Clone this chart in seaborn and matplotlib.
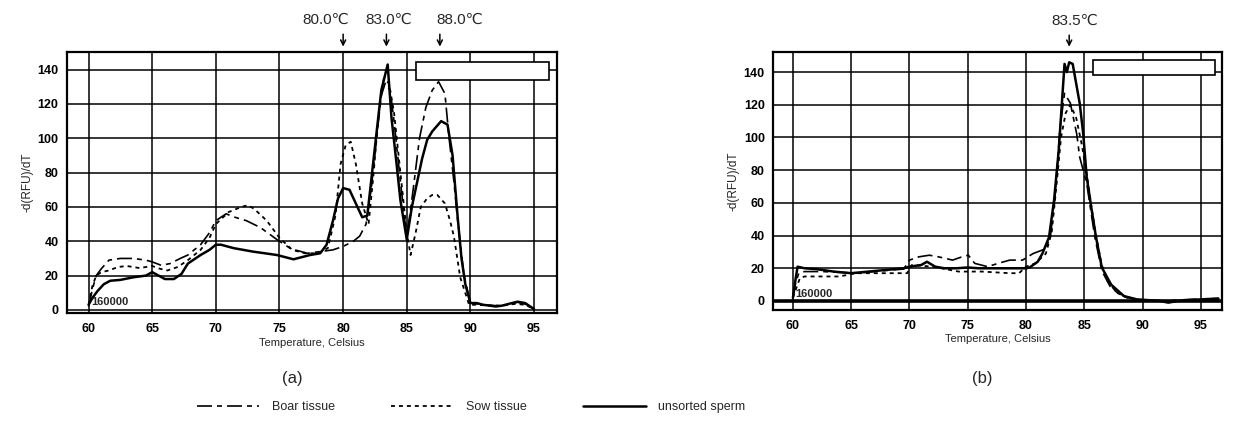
import numpy as np
import pandas as pd
import matplotlib
matplotlib.use("Agg")
import matplotlib.pyplot as plt
from matplotlib.lines import Line2D
from matplotlib.patches import Rectangle
from matplotlib.ticker import MultipleLocator
import seaborn as sns

# ---------------- data ----------------
x_ticks = [60, 65, 70, 75, 80, 85, 90, 95]
y_ticks = [0, 20, 40, 60, 80, 100, 120, 140]
series_names = ["Boar tissue", "Sow tissue", "unsorted sperm"]

# panel (a)
a_boar_x = [60.0, 60.3, 60.6, 61.0, 61.6, 62.5, 63.5, 64.5, 65.0, 65.7, 66.4, 67.2, 67.8, 68.8, 69.5, 70.0,
            70.8, 71.5, 72.4, 73.5, 74.8, 75.9, 77.2, 78.2, 79.2, 80.0, 80.8, 81.3, 81.8, 82.2, 82.7, 83.0,
            83.3, 83.7, 84.0, 84.5, 85.0, 85.5, 86.0, 86.5, 87.0, 87.5, 88.0, 88.3, 88.7, 89.0, 89.5, 90.0,
            91.0, 92.0, 93.0, 93.7, 94.5, 95.0]
a_boar_y = [2, 12, 20, 24, 29, 30, 30, 29, 28, 26, 27, 30, 32, 38, 45, 52,
            56, 54, 52, 48, 41, 35.6, 33, 34, 35, 37, 40, 43, 50, 70, 105, 125,
            132, 128, 110, 75, 42, 70, 100, 118, 128, 133, 126, 102, 75, 52, 20, 4,
            3, 2.5, 3, 4.5, 3, 0.5]

a_sow_x = [60.0, 60.3, 60.6, 61.0, 61.6, 62.3, 63.0, 64.0, 65.0, 65.6, 66.2, 67.0, 67.8, 68.8, 69.5, 70.0,
           71.0, 72.0, 72.5, 73.0, 74.0, 75.0, 76.0, 77.0, 78.0, 78.8, 79.4, 79.8, 80.2, 80.6, 81.0, 81.5,
           82.0, 82.4, 82.8, 83.2, 83.6, 84.0, 84.5, 85.0, 85.3, 85.7, 86.1, 86.6, 87.0, 87.4, 88.0, 88.4,
           88.7, 89.2, 89.9, 90.5, 91.5, 92.5, 93.5, 94.3, 95.0]
a_sow_y = [3, 14, 20, 22, 23, 25, 25.6, 24.4, 25.6, 24, 23, 25, 29, 35, 42, 50,
           57, 60, 61, 59, 52, 42, 35, 33, 33, 36, 55, 85, 96, 98, 85, 62,
           50, 80, 115, 135, 132, 115, 80, 45, 32, 45, 60, 65, 67, 67, 62, 52,
           43, 19, 3, 3, 2.5, 2.5, 3.5, 3, 0.5]

a_sperm_x = [60.0, 60.3, 60.7, 61.2, 61.7, 62.5, 63.5, 64.5, 65.0, 65.5, 66.0, 66.7, 67.3, 67.8, 68.8, 69.5,
             70.0, 70.4, 71.4, 72.9, 74.8, 76.1, 77.4, 78.2, 78.7, 79.2, 79.6, 80.0, 80.5, 81.0, 81.5, 81.9,
             82.5, 83.0, 83.5, 83.8, 84.2, 84.5, 85.0, 85.4, 85.8, 86.2, 86.6, 87.0, 87.7, 88.2, 88.6, 89.0,
             89.3, 89.6, 90.0, 90.5, 91.0, 91.5, 92.0, 92.5, 93.0, 93.7, 94.3, 95.0]
a_sperm_y = [3, 7, 11, 15, 17, 17.5, 19, 20, 22, 20, 18, 18, 21, 27, 32, 35,
             38, 38, 36, 34, 32, 29.5, 32, 33, 38, 52, 65, 71, 70, 62, 54, 55,
             95, 128, 143, 112, 85, 64, 41, 60, 74, 88, 99, 104, 110, 108, 90, 54,
             30, 15, 4, 4, 3, 2.5, 2, 2.5, 3.5, 4.8, 4, 0.5]

# panel (b)
b_boar_x = [60.0, 60.2, 60.5, 61.0, 62.5, 64.0, 65.5, 67.0, 68.5, 69.5, 70.0, 70.8, 71.7, 72.5, 73.7, 74.5,
            75.05, 75.6, 76.7, 77.6, 78.6, 79.7, 80.6, 81.7, 82.1, 82.5, 82.9, 83.3, 83.8, 84.35, 84.6, 85.2,
            85.9, 86.5, 87.2, 88.0, 89.0, 90.0, 92.0, 94.0, 96.5]
b_boar_y = [2, 10, 17, 18, 18, 17.5, 17, 18, 19, 19.5, 25, 27, 28, 27, 25, 27,
            28, 23, 21, 23, 25, 25, 29, 32, 40, 65, 105, 127, 121, 102, 88, 72,
            39, 18.5, 9, 4, 1.5, 0.5, 0, 1, 1.5]

b_sow_x = [60.0, 60.3, 60.6, 61.0, 62.0, 64.0, 65.4, 67.1, 69.2, 69.8, 70.2, 72.0, 74.2, 76.2, 78.6, 79.4,
           80.0, 80.8, 81.7, 82.2, 82.6, 83.0, 83.4, 83.8, 84.3, 84.8, 85.2, 85.6, 86.0, 86.5, 87.0, 87.8,
           88.8, 90.0, 92.0, 94.0, 96.5]
b_sow_y = [2, 8, 14, 15, 15, 15, 17, 17, 17, 17, 22, 21, 18, 18, 17, 17,
           21, 23, 29, 42, 70, 100, 115, 120, 112, 95, 78, 58, 40, 22, 12, 5,
           1.5, 0.5, 0, 0.5, 1]

b_sperm_x = [60.0, 60.2, 60.4, 61.0, 62.0, 63.5, 65.0, 66.5, 68.0, 69.5, 70.0, 71.0, 71.5, 72.2, 73.0, 74.0,
             75.0, 76.0, 77.0, 78.0, 79.0, 80.0, 80.3, 81.0, 81.4, 81.97, 82.4, 82.8, 83.3, 83.5, 83.7, 84.0,
             84.6, 84.9, 85.2, 85.6, 86.0, 86.5, 87.3, 88.4, 89.5, 90.5, 91.5, 92.2, 93.0, 94.0, 95.0, 96.5]
b_sperm_y = [2, 12, 21, 20, 19.5, 18, 17, 18, 19, 20, 21, 22, 24, 21, 20, 20,
             20.5, 20, 20, 20, 20, 20, 20.5, 24, 29, 39, 61.5, 92, 145, 140, 146, 145,
             121, 102.6, 76, 57, 39, 20.5, 10, 3, 1, 0.5, 0, -1, 0, 0.5, 1, 1.5]

peaks_a = [80.0, 83.0, 88.0]
peak_pos_a = [80.0, 83.4, 87.6]
peak_text_a = [78.6, 83.6, 89.2]
peaks_b = [83.5]
peak_pos_b = [83.7]
peak_text_b = [84.2]

# ---------------- style ----------------
sns.set_style("white")
plt.rcParams["font.family"] = ["Liberation Sans", "DejaVu Sans"]

styles = {
    "Boar tissue": dict(linestyle=(0, (9, 3, 3, 3)), linewidth=1.2),
    "Sow tissue": dict(linestyle=(0, (2.2, 2.2)), linewidth=1.3),
    "unsorted sperm": dict(linestyle="-", linewidth=1.8),
}

fig = plt.figure(figsize=(12.33, 4.21), dpi=100)
ax_a = fig.add_axes([0.0543, 0.2565, 0.3974, 0.62])
ax_b = fig.add_axes([0.627, 0.2637, 0.364, 0.6128])

panels = [
    (ax_a, [(a_boar_x, a_boar_y), (a_sow_x, a_sow_y), (a_sperm_x, a_sperm_y)], (-1.8, 150.3),
     peaks_a, peak_pos_a, peak_text_a, "(a)", 0.237, [0.712, 0.893, 0.272, 0.069]),
    (ax_b, [(b_boar_x, b_boar_y), (b_sow_x, b_sow_y), (b_sperm_x, b_sperm_y)], (-5.5, 152.3),
     peaks_b, peak_pos_b, peak_text_b, "(b)", 0.797, [0.713, 0.911, 0.271, 0.058]),
]

for ax, data, ylim, plabels, ppos, ptext, tag, tagx, box in panels:
    for name, (xs, ys) in zip(series_names, data):
        df = pd.DataFrame({"T": xs, "v": ys})
        sns.lineplot(data=df, x="T", y="v", ax=ax, color="black", sort=False,
                     estimator=None, legend=False, **styles[name])
    ax.set_xlim(58.3, 96.8)
    ax.set_ylim(*ylim)
    ax.set_xticks(x_ticks)
    ax.set_yticks(y_ticks)
    ax.xaxis.set_minor_locator(MultipleLocator(1))
    ax.yaxis.set_minor_locator(MultipleLocator(4))
    ax.tick_params(axis="both", which="major", direction="out", length=4, width=1.2,
                   labelsize=9, colors="black", pad=2)
    ax.tick_params(axis="both", which="minor", direction="in", length=5, width=1.1)
    ax.tick_params(axis="x", which="major", labelsize=9, pad=3)
    for lab in ax.get_xticklabels() + ax.get_yticklabels():
        lab.set_fontweight("bold")
    ax.grid(True, which="major", color="black", linewidth=1.1)
    for sp in ax.spines.values():
        sp.set_visible(True)
        sp.set_color("black")
        sp.set_linewidth(1.6)
    ax.set_xlabel("Temperature, Celsius", fontsize=8, labelpad=2)
    ax.set_ylabel("-d(RFU)/dT", fontsize=8.5, labelpad=3)
    fig.text(tagx, 1 - 378 / 421, tag, ha="center", va="center", fontsize=12)
    ax.add_patch(Rectangle((box[0], box[1]), box[2], box[3], transform=ax.transAxes,
                           facecolor="white", edgecolor="black", linewidth=1.2, zorder=5))
    ax.text(60.2, 1.5, "160000", fontsize=8, fontweight="bold", ha="left", va="bottom", zorder=6)
    ytop = ylim[1]
    for lbl, px, tx in zip(plabels, ppos, ptext):
        ax.annotate("", xy=(px, ytop + 1.5), xytext=(px, ytop + 12),
                    arrowprops=dict(arrowstyle="->", lw=1.1, color="black", mutation_scale=9),
                    annotation_clip=False)
        ax.text(tx, ytop + 19, f"{lbl:.1f}℃", ha="center", va="center",
                fontsize=11, clip_on=False)

ax_b.axhline(0, color="black", linewidth=2.6, zorder=4)

handles = [Line2D([0], [0], color="black", **styles[n]) for n in series_names]
fig.legend(handles, series_names, loc="center", bbox_to_anchor=(0.382, 0.033), ncol=3,
           frameon=False, fontsize=9, handlelength=5, columnspacing=4.5, handletextpad=1)

fig.savefig("out.png", dpi=100)
